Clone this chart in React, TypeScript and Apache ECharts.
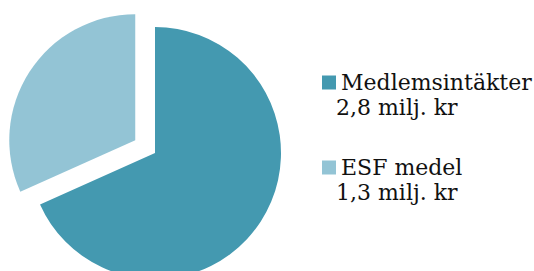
import React, { useEffect, useRef } from "react";
import * as echarts from "echarts";

const categories = ["Medlemsintäkter", "ESF medel"];
const values = [2.8, 1.3];
const valueLabels = ["2,8 milj. kr", "1,3 milj. kr"];
const colors = ["#4499B0", "#93C4D5"];
const explodedIndex = 1;

const FONT = "DejaVu Serif";
const FS = 22;
const LEG_LEFT = 317;
const ICON = 14;
const FIRST_CENTER = 77.5;
const ITEM_STEP = 85;
const LINE_H = 30;

export default function App() {
  const ref = useRef<HTMLDivElement>(null);
  useEffect(() => {
    document.body.style.margin = "0";
    const chart = echarts.init(ref.current!, undefined, { renderer: "svg" });
    chart.setOption({
      animation: false,
      legend: {
        orient: "vertical",
        left: LEG_LEFT,
        top: FIRST_CENTER - LINE_H / 2,
        itemWidth: ICON,
        itemHeight: ICON,
        itemGap: ITEM_STEP - LINE_H,
        icon: "rect",
        selectedMode: false,
        textStyle: {
          fontFamily: FONT,
          fontSize: FS,
          lineHeight: LINE_H,
          color: "#111",
        },
        data: categories,
      },
      graphic: valueLabels.map((t, i) => ({
        type: "text",
        left: LEG_LEFT + ICON + 5,
        top: FIRST_CENTER + LINE_H + i * ITEM_STEP - LINE_H / 2,
        style: {
          text: t,
          fontFamily: FONT,
          fontSize: FS,
          lineHeight: LINE_H,
          fill: "#111",
        },
      })),
      series: [
        {
          type: "pie",
          center: [155, 153],
          radius: [0, 126],
          startAngle: 90,
          clockwise: true,
          selectedMode: "single",
          selectedOffset: 23.5,
          label: { show: false },
          labelLine: { show: false },
          emphasis: { disabled: true },
          itemStyle: { borderWidth: 0 },
          data: categories.map((c, i) => ({
            name: c,
            value: values[i],
            selected: i === explodedIndex,
            itemStyle: { color: colors[i] },
          })),
        },
      ],
    });
    return () => chart.dispose();
  }, []);
  return (
    <div
      ref={ref}
      style={{ position: "fixed", left: 0, top: 0, width: 534, height: 271, background: "#fff" }}
    />
  );
}
